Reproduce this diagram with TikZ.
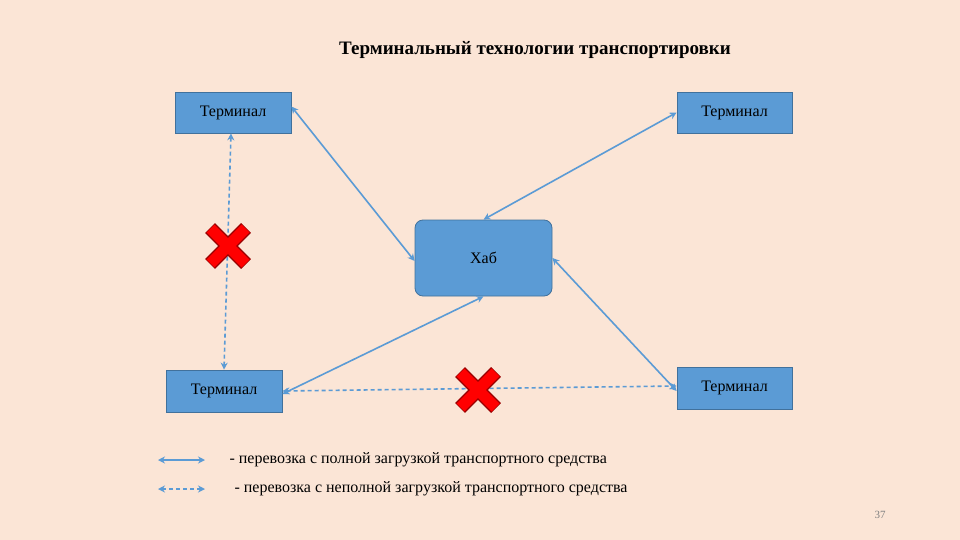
\documentclass[tikz,border=0pt]{standalone}
\usepackage{fontspec}
\setmainfont{Liberation Serif}
\usetikzlibrary{arrows.meta}
\definecolor{bg}{HTML}{FBE5D6}
\definecolor{boxf}{HTML}{5B9BD5}
\definecolor{boxd}{HTML}{41719C}
\begin{document}
\begin{tikzpicture}[x=1pt,y=-1pt,
  term/.style={draw=boxd,fill=boxf,line width=0.8pt,inner sep=0pt,font=\fontsize{16}{18}\selectfont},
  conn/.style={draw=boxf,line width=1.6pt,{Stealth[length=7pt,width=7pt]}-{Stealth[length=7pt,width=7pt]}},
  dconn/.style={conn,dash pattern=on 4pt off 3pt},
  cross/.style={line width=12pt,draw=red!80!black}]
\fill[bg] (0,0) rectangle (960,540);
\node[font=\bfseries\fontsize{19}{22}\selectfont] (title) at (535,50) {Терминальный технологии транспортировки};
\node[term,minimum width=116pt,minimum height=41pt] (tl) at (233,112.5) {Терминал};
\node[term,minimum width=115pt,minimum height=41pt] (tr) at (734.5,112.5) {Терминал};
\node[term,minimum width=116pt,minimum height=42pt] (bl) at (224,391) {Терминал};
\node[term,minimum width=115pt,minimum height=42pt] (br) at (734.5,388) {Терминал};
\node[term,rounded corners=8pt,minimum width=137pt,minimum height=76pt] (hub) at (483.5,258) {Хаб};
\draw[conn] ([yshift=6pt]tl.east) -- ([yshift=-3pt]hub.west);
\draw[conn] (tr.west) -- (hub.north);
\draw[conn] (hub.south) -- ([yshift=-3pt]bl.east);
\draw[conn] (hub.east) -- ([yshift=-3pt]br.west);
\draw[dconn] ([xshift=-2pt]tl.south) -- (bl.north);
\draw[dconn] (bl.east) -- ([yshift=2pt]br.west);
\foreach \n/\cx/\cy in {c1/228/246,c2/478/390}{
  \coordinate (\n) at (\cx,\cy);
  \draw[line width=14pt,draw=red!60!black] ([shift={(-18,-18)}]\n) -- ([shift={(18,18)}]\n) ([shift={(-18,18)}]\n) -- ([shift={(18,-18)}]\n);
  \draw[line width=11pt,draw=red] ([shift={(-17.5,-17.5)}]\n) -- ([shift={(17.5,17.5)}]\n) ([shift={(-17.5,17.5)}]\n) -- ([shift={(17.5,-17.5)}]\n);
}
\coordinate (l1a) at (158,460); \coordinate (l1b) at (205,460);
\coordinate (l2a) at (158,489); \coordinate (l2b) at (205,489);
\draw[conn] (l1a) -- (l1b);
\draw[dconn] (l2a) -- (l2b);
\node[anchor=west,font=\fontsize{16}{18}\selectfont] (t1) at (226,460) {- перевозка с полной загрузкой транспортного средства};
\node[anchor=west,font=\fontsize{16}{18}\selectfont] (t2) at (231,489) {- перевозка с неполной загрузкой транспортного средства};
\node[text=gray,font=\fontsize{11}{12}\selectfont] (pg) at (880,515) {37};
\end{tikzpicture}
\end{document}
